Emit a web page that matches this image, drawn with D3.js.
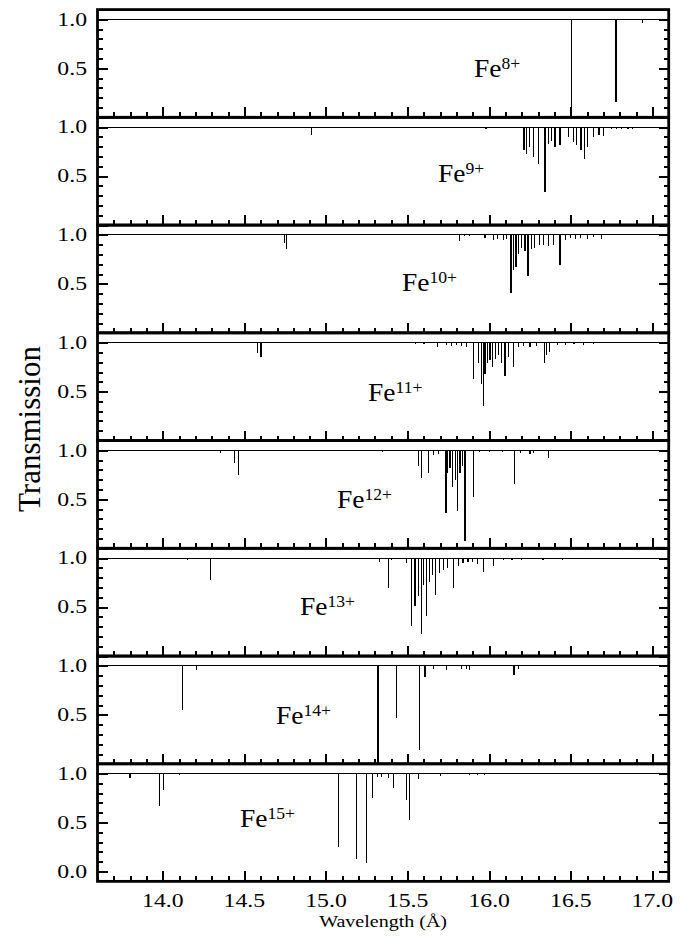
<!DOCTYPE html>
<html>
<head>
<meta charset="utf-8">
<script src="https://cdn.jsdelivr.net/npm/d3@7"></script>
<style>
  body { margin: 0; background: #fff; }
  svg { display: block; }
  text { font-family: "Liberation Serif", "Times New Roman", serif; fill: #000; }
</style>
</head>
<body>
<svg id="chart" width="686" height="937"></svg>
<script>
/* Data: absorption lines per ion, [wavelength (A), transmission at line centre] */
/* ************************************************************************** */
var ions = ['8+', '9+', '10+', '11+', '12+', '13+', '14+', '15+'];

var fe8Lines = [[16.502, 0.0], [16.506, 0.0], [16.777, 0.16], [16.94, 0.96]];

var fe9Lines = [[14.912, 0.92], [15.98, 0.985],
    [16.213, 0.77], [16.23, 0.73], [16.246, 0.80], [16.27, 0.70], [16.303, 0.62], [16.342, 0.34],
    [16.362, 0.83], [16.383, 0.86], [16.403, 0.80], [16.434, 0.82], [16.485, 0.90], [16.515, 0.85],
    [16.536, 0.82], [16.563, 0.77], [16.583, 0.67], [16.601, 0.80], [16.638, 0.90], [16.673, 0.92],
    [16.70, 0.91], [16.75, 0.98], [16.78, 0.98], [16.81, 0.985], [16.85, 0.98], [16.88, 0.985]];

var fe10Lines = [[14.745, 0.92], [14.757, 0.86],
    [15.817, 0.94], [15.85, 0.99], [15.88, 0.99], [15.974, 0.97], [16.025, 0.95], [16.05, 0.96],
    [16.087, 0.95], [16.107, 0.96], [16.134, 0.41], [16.148, 0.64], [16.164, 0.67], [16.178, 0.80],
    [16.199, 0.87], [16.22, 0.84], [16.238, 0.58], [16.26, 0.86], [16.28, 0.87], [16.307, 0.90],
    [16.332, 0.90], [16.362, 0.89], [16.393, 0.90], [16.434, 0.69], [16.47, 0.95], [16.50, 0.97],
    [16.53, 0.96], [16.56, 0.97], [16.60, 0.96], [16.64, 0.98], [16.69, 0.96]];

var fe11Lines = [[14.579, 0.89], [14.602, 0.85],
    [15.55, 0.99], [15.60, 0.99], [15.682, 0.96], [15.74, 0.98], [15.77, 0.97], [15.80, 0.98],
    [15.83, 0.97], [15.862, 0.96], [15.903, 0.63], [15.933, 0.79], [15.954, 0.58], [15.964, 0.35],
    [15.974, 0.68], [15.988, 0.79], [16.005, 0.82], [16.021, 0.75], [16.038, 0.83], [16.056, 0.87],
    [16.077, 0.79], [16.097, 0.66], [16.117, 0.85], [16.148, 0.75], [16.18, 0.96], [16.21, 0.97],
    [16.25, 0.96], [16.29, 0.97], [16.338, 0.79], [16.352, 0.87], [16.368, 0.90], [16.42, 0.98],
    [16.47, 0.98], [16.52, 0.985], [16.58, 0.98], [16.64, 0.985]];

var fe12Lines = [[14.355, 0.97], [14.438, 0.87], [14.463, 0.75],
    [15.348, 0.98], [15.47, 0.99], [15.50, 0.99], [15.566, 0.84], [15.587, 0.72], [15.63, 0.77],
    [15.658, 0.95], [15.688, 0.96], [15.735, 0.36], [15.746, 0.77], [15.76, 0.82], [15.776, 0.63],
    [15.795, 0.70], [15.807, 0.38], [15.821, 0.77], [15.835, 0.84], [15.852, 0.07], [15.903, 0.52],
    [15.94, 0.98], [16.0, 0.98], [16.08, 0.98], [16.154, 0.66], [16.19, 0.97], [16.25, 0.96],
    [16.27, 0.97], [16.365, 0.92], [16.47, 0.99], [16.63, 0.99], [16.75, 0.99]];

var fe13Lines = [[14.152, 0.98], [14.292, 0.78], [14.37, 0.99],
    [15.329, 0.96], [15.382, 0.70], [15.40, 0.98], [15.493, 0.95], [15.524, 0.31], [15.545, 0.51],
    [15.566, 0.61], [15.583, 0.23], [15.597, 0.73], [15.614, 0.41], [15.636, 0.76], [15.652, 0.83],
    [15.673, 0.62], [15.698, 0.85], [15.719, 0.88], [15.744, 0.90], [15.78, 0.70], [15.81, 0.92],
    [15.84, 0.95], [15.87, 0.96], [15.90, 0.96], [15.93, 0.94], [15.964, 0.86], [16.027, 0.92],
    [16.09, 0.98], [16.14, 0.985], [16.20, 0.98], [16.33, 0.985], [16.45, 0.985]];

var fe14Lines = [[14.119, 0.55], [14.206, 0.96],
    [15.315, 0.0], [15.319, 0.0], [15.431, 0.47], [15.573, 0.14], [15.607, 0.89],
    [15.66, 0.97], [15.74, 0.96], [15.83, 0.97], [15.86, 0.97], [15.88, 0.96], [16.152, 0.91], [16.18, 0.97]];

var fe15Lines = [[13.799, 0.955], [13.982, 0.67], [14.006, 0.83], [14.10, 0.99],
    [15.075, 0.25], [15.188, 0.13], [15.249, 0.09], [15.283, 0.75], [15.315, 0.97], [15.339, 0.97],
    [15.381, 0.96], [15.415, 0.85], [15.493, 0.73], [15.513, 0.53], [15.567, 0.945], [15.70, 0.98],
    [15.88, 0.99], [15.93, 0.99], [15.97, 0.985]];

var ionLines = [fe8Lines, fe9Lines, fe10Lines, fe11Lines, fe12Lines, fe13Lines, fe14Lines, fe15Lines];

var wavelengthDomain = [13.6, 17.1];
var xTickLabels = [14.0, 14.5, 15.0, 15.5, 16.0, 16.5, 17.0];
var yTickLabels = [1.0, 0.5];
var yTickLabelsLast = [1.0, 0.5, 0.0];

/* Layout */
/* ****** */
var svg = d3.select('#chart');
var left = 97.5, right = 668.7, top0 = 9.6, unit = 97.95;
var stretch = 1.25;   // tick glyphs in the reference are wider than Times

// label position of each ion name: [x of "Fe", baseline]
var labelPos = [[474, 77], [438, 182], [402, 291], [368, 401], [337, 508], [300, 615], [276, 724], [240, 827]];

var x = d3.scaleLinear().domain(wavelengthDomain).range([left, right]);

var xMinor = d3.range(136, 172).map(function (i) { return i / 10; });
var yMinor = d3.range(0, 11).map(function (i) { return i / 10; });
var yMajor = [0, 0.5, 1.0];

var fmt = d3.format('.1f');

function spectrumPoints(lines) {
    var pts = [[wavelengthDomain[0], 1]];
    lines.slice().sort(function (a, b) { return a[0] - b[0]; }).forEach(function (d) {
        pts.push([d[0], 1], [d[0], d[1]], [d[0], 1]);
    });
    pts.push([wavelengthDomain[1], 1]);
    return pts;
}

function addTicks(g, axis) {
    g.call(axis);
    g.select('.domain').remove();
    g.selectAll('.tick line')
        .attr('stroke', '#000')
        .attr('stroke-width', 2)
        .attr('shape-rendering', 'crispEdges');
}

ionLines.forEach(function (lines, i) {
    var last = i === ionLines.length - 1;
    var top = top0 + i * 1.1 * unit;
    var yDomain = last ? [-0.1, 1.1] : [0, 1.1];
    var bottom = top + (yDomain[1] - yDomain[0]) * unit;
    var y = d3.scaleLinear().domain(yDomain).range([bottom, top]);

    var panel = svg.append('g').attr('class', 'panel');

    // spectrum
    var line = d3.line()
        .x(function (d) { return x(d[0]); })
        .y(function (d) { return y(d[1]); });
    panel.append('path')
        .datum(spectrumPoints(lines))
        .attr('d', line)
        .attr('fill', 'none')
        .attr('stroke', '#000')
        .attr('stroke-width', 1.2)
        .attr('shape-rendering', 'crispEdges');

    // ticks, all pointing inward
    [[xMinor, 5], [xTickLabels, 10]].forEach(function (t) {
        addTicks(panel.append('g').attr('transform', 'translate(0,' + bottom + ')'),
            d3.axisBottom(x).tickValues(t[0]).tickSize(-t[1]).tickSizeOuter(0).tickFormat(''));
    });
    [[yMinor, 5], [yMajor, 10]].forEach(function (t) {
        addTicks(panel.append('g').attr('transform', 'translate(' + left + ',0)'),
            d3.axisLeft(y).tickValues(t[0]).tickSize(-t[1]).tickSizeOuter(0).tickFormat(''));
        addTicks(panel.append('g').attr('transform', 'translate(' + right + ',0)'),
            d3.axisRight(y).tickValues(t[0]).tickSize(-t[1]).tickSizeOuter(0).tickFormat(''));
    });

    // frame
    panel.append('rect')
        .attr('x', left).attr('y', top)
        .attr('width', right - left).attr('height', bottom - top)
        .attr('fill', 'none').attr('stroke', '#000').attr('stroke-width', 2.8);

    // y tick labels
    panel.selectAll('text.ylab')
        .data(last ? yTickLabelsLast : yTickLabels)
        .enter().append('text')
        .attr('class', 'ylab')
        .attr('text-anchor', 'end')
        .attr('font-size', 19)
        .attr('transform', function (d) { return 'translate(87,' + (y(d) + 6.3) + ') scale(' + stretch + ',1)'; })
        .text(fmt);

    // ion label
    var lab = panel.append('text')
        .attr('font-size', 25)
        .attr('transform', 'translate(' + labelPos[i][0] + ',' + labelPos[i][1] + ') scale(1.1,1)');
    lab.append('tspan').text('Fe');
    lab.append('tspan').attr('font-size', 16).attr('dy', -8.5).text(ions[i]);

    if (last) {
        panel.selectAll('text.xlab')
            .data(xTickLabels)
            .enter().append('text')
            .attr('class', 'xlab')
            .attr('text-anchor', 'middle')
            .attr('font-size', 19)
            .attr('transform', function (d) { return 'translate(' + x(d) + ',906.5) scale(' + stretch + ',1)'; })
            .text(fmt);
    }
});

// axis titles
svg.append('text')
    .attr('text-anchor', 'middle')
    .attr('font-size', 16)
    .attr('transform', 'translate(' + ((left + right) / 2) + ',927) scale(' + stretch + ',1)')
    .text('Wavelength (\u00C5)');

svg.append('text')
    .attr('text-anchor', 'middle')
    .attr('font-size', 31)
    .attr('transform', 'translate(40,429) rotate(-90)')
    .text('Transmission');
</script>
</body>
</html>
